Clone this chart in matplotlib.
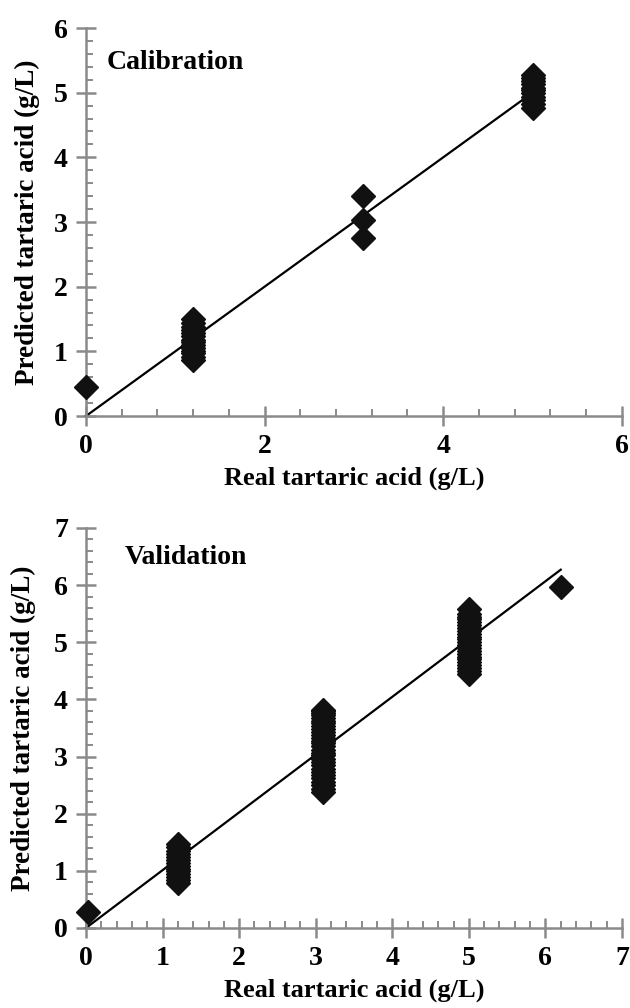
import matplotlib
matplotlib.use("Agg")
import matplotlib.pyplot as plt
from matplotlib.ticker import MultipleLocator

plt.rcParams['font.family'] = ['Liberation Serif', 'DejaVu Serif']
plt.rcParams['font.weight'] = 'bold'

# ---- Calibration data ----
cal_x = [0.0,
         1.2, 1.2, 1.2, 1.2, 1.2, 1.2, 1.2, 1.2, 1.2, 1.2, 1.2, 1.2, 1.2, 1.2,
         3.1, 3.1, 3.1,
         5.0, 5.0, 5.0, 5.0, 5.0, 5.0, 5.0, 5.0, 5.0, 5.0, 5.0]
cal_y = [0.45,
         0.86, 0.92, 0.97, 1.01, 1.05, 1.10, 1.14, 1.18, 1.23, 1.28, 1.33, 1.38, 1.44, 1.50,
         2.75, 3.03, 3.40,
         4.76, 4.82, 4.88, 4.94, 4.99, 5.04, 5.08, 5.13, 5.18, 5.23, 5.28]
cal_line_x = [0.0, 5.0]
cal_line_y = [0.0, 5.0]

# ---- Validation data ----
val_x = [0.02,
         1.2, 1.2, 1.2, 1.2, 1.2, 1.2, 1.2, 1.2, 1.2, 1.2, 1.2, 1.2, 1.2, 1.2,
         3.1, 3.1, 3.1, 3.1, 3.1, 3.1, 3.1, 3.1, 3.1, 3.1, 3.1, 3.1, 3.1, 3.1,
         3.1, 3.1, 3.1, 3.1, 3.1, 3.1, 3.1, 3.1, 3.1, 3.1, 3.1, 3.1, 3.1, 3.1, 3.1,
         5.0, 5.0, 5.0, 5.0, 5.0, 5.0, 5.0, 5.0, 5.0, 5.0, 5.0, 5.0, 5.0, 5.0,
         5.0, 5.0, 5.0, 5.0, 5.0, 5.0, 5.0, 5.0, 5.0,
         6.2]
val_y = [0.28,
         0.78, 0.84, 0.89, 0.94, 0.99, 1.04, 1.09, 1.14, 1.19, 1.24, 1.29, 1.35, 1.41, 1.47,
         2.38, 2.44, 2.50, 2.56, 2.62, 2.68, 2.73, 2.79, 2.85, 2.90, 2.96, 3.02, 3.07, 3.12,
         3.18, 3.23, 3.28, 3.33, 3.38, 3.43, 3.48, 3.53, 3.58, 3.63, 3.68, 3.72, 3.76, 3.80, 3.82,
         4.45, 4.50, 4.55, 4.60, 4.65, 4.70, 4.75, 4.80, 4.85, 4.90, 4.95, 5.00, 5.05, 5.10,
         5.15, 5.20, 5.25, 5.30, 5.35, 5.40, 5.45, 5.50, 5.58,
         5.97]
val_line_x = [0.0, 6.2]
val_line_y = [0.0, 6.27]

fig = plt.figure(figsize=(6.3, 10.08), dpi=100)
ax1 = fig.add_axes([0.1365, 0.5873, 0.8505, 0.3849])
ax2 = fig.add_axes([0.1365, 0.0794, 0.8508, 0.3968])

axis_col = '#8a8a8a'


def style(ax, xmax, ymax, xmaj, xmin, ymaj, ymin, ylab_x, xlab_y):
    ax.set_xlim(0, xmax)
    ax.set_ylim(0, ymax)
    for s in ['top', 'right']:
        ax.spines[s].set_visible(False)
    for s in ['left', 'bottom']:
        ax.spines[s].set_color(axis_col)
        ax.spines[s].set_linewidth(1.8)
    ax.xaxis.set_major_locator(MultipleLocator(xmaj))
    ax.xaxis.set_minor_locator(MultipleLocator(xmin))
    ax.yaxis.set_major_locator(MultipleLocator(ymaj))
    ax.yaxis.set_minor_locator(MultipleLocator(ymin))
    ax.tick_params(which='major', direction='inout', length=14, width=1.8,
                   color=axis_col, labelsize=20, pad=6)
    ax.tick_params(which='minor', direction='in', length=5, width=1.4,
                   color=axis_col)
    for lab in ax.get_xticklabels() + ax.get_yticklabels():
        lab.set_fontweight('bold')
    xl = ax.set_xlabel('Real tartaric acid (g/L)', fontsize=19, fontweight='bold')
    yl = ax.set_ylabel('Predicted tartaric acid (g/L)', fontsize=19.5, fontweight='bold')
    xl.set_verticalalignment('center')
    yl.set_verticalalignment('center')
    ax.xaxis.set_label_coords(0.5, xlab_y)
    ax.yaxis.set_label_coords(ylab_x, 0.5)


ax1.plot(cal_line_x, cal_line_y, color='black', lw=1.6, zorder=2, clip_on=False)
ax1.plot(cal_x, cal_y, linestyle='none', marker='D', markersize=12.5,
         color='#111111', zorder=3, clip_on=False)
style(ax1, 6, 6, 2, 0.4, 1, 0.2, -0.110, -0.160)
ax1.text(0.23, 5.47, 'Calibration', fontsize=20, fontweight='bold', va='center', ha='left')

ax2.plot(val_line_x, val_line_y, color='black', lw=1.6, zorder=2, clip_on=False)
ax2.plot(val_x, val_y, linestyle='none', marker='D', markersize=12.5,
         color='#111111', zorder=3, clip_on=False)
style(ax2, 7, 7, 1, 0.2, 1, 0.2, -0.117, -0.155)
ax2.text(0.51, 6.48, 'Validation', fontsize=20, fontweight='bold', va='center', ha='left')

fig.savefig('out.png', dpi=100)
